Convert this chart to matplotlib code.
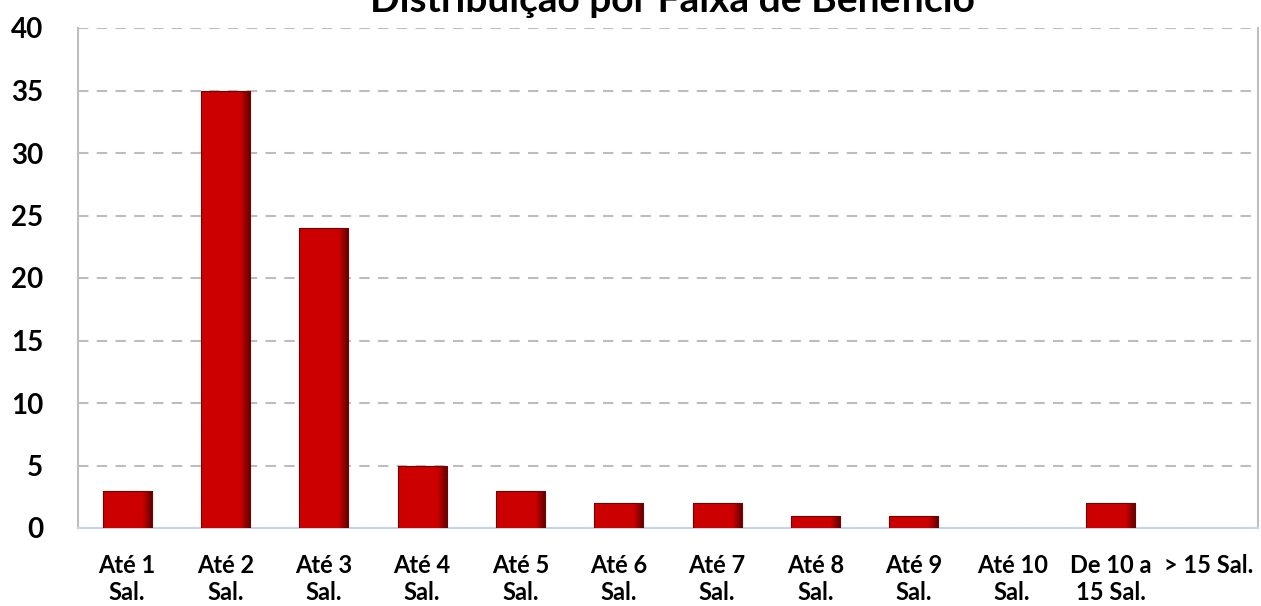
import matplotlib
matplotlib.use("Agg")
import matplotlib.pyplot as plt
import numpy as np

categories = ["Até 1\nSal.", "Até 2\nSal.", "Até 3\nSal.", "Até 4\nSal.", "Até 5\nSal.",
              "Até 6\nSal.", "Até 7\nSal.", "Até 8\nSal.", "Até 9\nSal.", "Até 10\nSal.",
              "De 10 a\n15 Sal.", "> 15 Sal.\n"]
values = [3, 35, 24, 5, 3, 2, 2, 1, 1, 0, 2, 0]
yticks = [0, 5, 10, 15, 20, 25, 30, 35, 40]
title = "Distribuição por Faixa de Benefício"

plt.rcParams['font.family'] = ['Lato', 'DejaVu Sans']

fig = plt.figure(figsize=(12.61, 6.06), dpi=100)
ax = fig.add_axes([78/1261, 1 - 528/606, (1258-78)/1261, 500/606])

x = np.arange(len(categories))
bars = ax.bar(x, values, width=0.5, color='#C80000', edgecolor='none', linewidth=0, zorder=3)

ax.set_xlim(-0.5, len(categories) - 0.5)
ax.set_ylim(0, 40)

# bevel-like shading: horizontal gradient (bright left, dark right edge)
nx = 64
u = np.linspace(0, 1, nx)
shade = np.clip(1.0 - np.clip((u - 0.80) / 0.20, 0, 1) * 0.55, 0, 1)
base = np.array([0.80, 0.0, 0.0])
grad = np.zeros((1, nx, 3))
for i in range(nx):
    grad[0, i] = base * shade[i]
for b in bars:
    h = b.get_height()
    if h <= 0:
        continue
    x0, w = b.get_x(), b.get_width()
    im = ax.imshow(grad, extent=[x0, x0 + w, 0, h], aspect='auto', zorder=3.5,
                   interpolation='bilinear')
    im.set_clip_path(b)
    b.set_edgecolor('#7a0000')
    b.set_linewidth(0.8)
    b.set_facecolor('none')
    b.set_zorder(4)

ax.set_xlim(-0.5, len(categories) - 0.5)
ax.set_ylim(0, 40)
ax.set_yticks(yticks)
ax.set_yticklabels([str(v) for v in yticks], fontsize=20, fontweight='bold')
ax.set_xticks(x)
ax.set_xticklabels(categories, fontsize=17, fontweight='bold', linespacing=1.2)
ax.tick_params(axis='both', length=0)
ax.tick_params(axis='y', pad=25)
ax.tick_params(axis='x', pad=19)

ax.grid(axis='y', color='#bdbdbd', linestyle=(0, (5, 4)), linewidth=1.5, zorder=0)
ax.spines['left'].set_color('#bfbfbf')
ax.spines['right'].set_color('#bfbfbf')
ax.spines['top'].set_visible(False)
ax.spines['bottom'].set_color('#c6d4ea')
ax.spines['left'].set_linewidth(1.5)
ax.spines['right'].set_linewidth(1.5)
ax.spines['bottom'].set_linewidth(1.5)

fig.text(672/1261, 1 - 12/606, title, ha='center', va='baseline', fontsize=28, fontweight='bold')

fig.savefig("out.png", dpi=100)
